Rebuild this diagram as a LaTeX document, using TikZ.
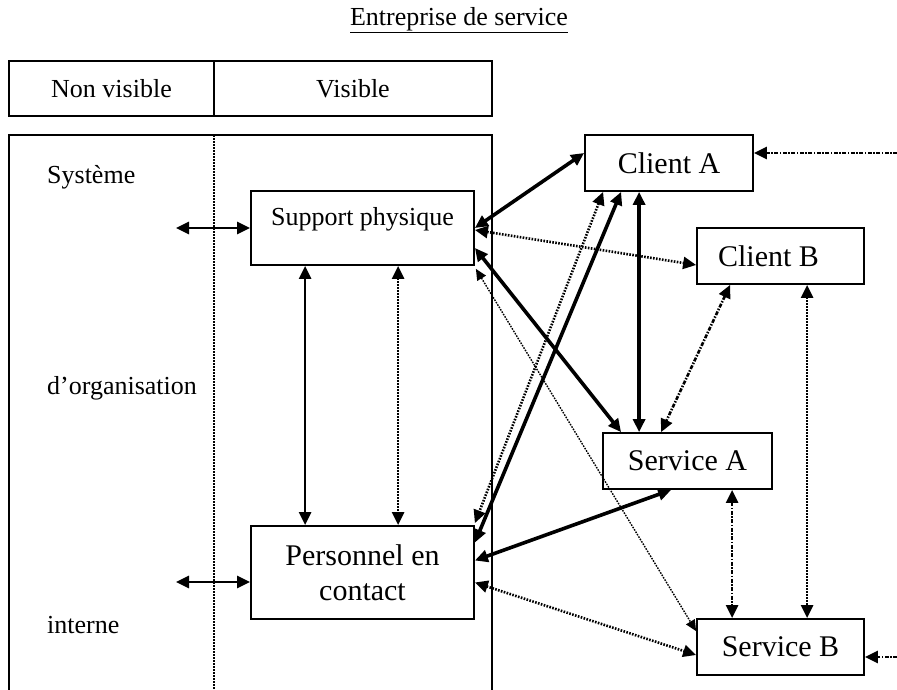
\documentclass[tikz,border=0pt]{standalone}
\usepackage{fontspec}
\setmainfont{Liberation Serif}
\usetikzlibrary{arrows.meta,calc}
\begin{document}
\begin{tikzpicture}[x=1pt,y=-1pt,
  box/.style={draw,line width=1.8pt,inner sep=0pt,font=\fontsize{30}{35}\selectfont,align=center},
  hbox/.style={draw,line width=1.8pt,inner sep=0pt,font=\fontsize{26}{30}\selectfont,minimum height=55pt},
  lab/.style={font=\fontsize{26}{30}\selectfont,inner sep=0pt},
  twoway/.style={{Triangle[length=13pt,width=12pt]}-{Triangle[length=13pt,width=12pt]}},
  oneway/.style={-{Triangle[length=13pt,width=12pt]}},
  thk/.style={twoway,line width=3.6pt},
  med/.style={twoway,line width=2.6pt},
  dotl/.style={twoway,line width=2.6pt,dash pattern=on 1.6pt off 1.4pt},
  dens/.style={twoway,line width=2.6pt,dash pattern=on 2pt off 1pt},
  thinl/.style={{Triangle[length=11pt,width=10pt]}-{Triangle[length=11pt,width=10pt]},line width=1.4pt,dash pattern=on 1.6pt off 1.2pt},
  dd/.style={twoway,line width=2.6pt,dash pattern=on 4pt off 1.5pt on 1.5pt off 1.5pt},
]
\useasboundingbox (0,0) rectangle (897,690);

% title
\node[lab] (title) at (459,20) {\underline{Entreprise de service}};

% header
\node[hbox,minimum width=205pt] (nv) at (111.5,88.5) {Non visible};
\node[hbox,minimum width=278pt] (vis) at (353,88.5) {Visible};

% main frame (cut at the bottom)
\draw[line width=1.8pt] (9,692) -- (9,135) -- (492,135) -- (492,692);
\draw[line width=2pt,dash pattern=on 1.6pt off 1.4pt] (214,135) -- (214,692);

% left labels
\node[lab,anchor=west] (sys) at (47,177) {Système};
\node[lab,anchor=west] (org) at (47,388) {d’organisation};
\node[lab,anchor=west] (int) at (47,625) {interne};

% boxes
\node[box,minimum width=223pt,minimum height=74pt] (SP) at (362.5,228) {};
\node[lab] (SPt) at (362.5,219) {Support physique};
\node[box,minimum width=223pt,minimum height=93pt] (PC) at (362.5,572.5) {Personnel en\\contact};
\node[box,minimum width=168pt,minimum height=56pt] (CA) at (669,163) {Client A};
\node[box,minimum width=167pt,minimum height=56pt] (CB) at (780.5,256) {\hspace*{-24pt}Client B};
\node[box,minimum width=169pt,minimum height=56pt] (SA) at (687.5,461) {Service A};
\node[box,minimum width=167pt,minimum height=56pt] (SB) at (780.5,647) {Service B};

% free ends
\coordinate (SPf) at (176,228);
\coordinate (PCf) at (176,582);
\coordinate (CAin) at (897,153);
\coordinate (SBin) at (897,657);

% connectors
\draw[med] (SPf) -- (SP.west);
\draw[med] (PCf) -- (PCf -| PC.west);
\draw[med] ($(SP.south west)+(55,0)$) -- ($(PC.north west)+(55,0)$);
\draw[dotl] ($(SP.south west)+(148,0)$) -- ($(PC.north west)+(148,0)$);
\draw[thk] (SP.east) -- ($(CA.west)+(0,-10)$);
\draw[dotl] ($(SP.east)+(0,2)$) -- ($(CB.west)+(0,9)$);
\draw[thk] ($(SP.east)+(0,20)$) -- ($(SA.north west)+(19,0)$);
\draw[thinl] ($(SP.south east)+(1,3)$) -- ($(SB.north west)+(0,13)$);
\draw[thk] ($(CA.south west)+(55,0)$) -- ($(SA.north west)+(37,0)$);
\draw[thk] ($(CA.south west)+(37,0)$) -- ($(PC.east)+(0,-30)$);
\draw[dotl] ($(CA.south west)+(19,0)$) -- ($(PC.north east)+(0,-2)$);
\draw[dd] ($(CB.south west)+(34,0)$) -- ($(SA.north west)+(59,0)$);
\draw[dens] ($(CB.south west)+(111,0)$) -- ($(SB.north west)+(111,0)$);
\draw[thk] ($(SA.south west)+(69,0)$) -- ($(PC.east)+(0,-12)$);
\draw[dd] ($(SA.south west)+(130,0)$) -- ($(SB.north west)+(36,0)$);
\draw[dotl] ($(PC.east)+(0,10)$) -- ($(SB.west)+(0,8)$);
\draw[dd,oneway] (CAin) -- ($(CA.east)+(0,-10)$);
\draw[dd,oneway] (SBin) -- ($(SB.east)+(0,10)$);
\end{tikzpicture}
\end{document}
